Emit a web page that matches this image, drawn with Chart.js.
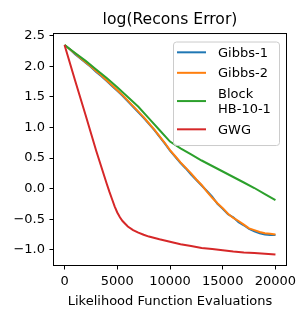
<!DOCTYPE html>
<html><head><meta charset="utf-8">
<script src="https://cdn.jsdelivr.net/npm/chart.js@4.4.0/dist/chart.umd.min.js"></script>
<style>html,body{margin:0;padding:0;background:#fff}#wrap{width:307px;height:318px;position:relative}</style>
</head><body><div id="wrap"><canvas id="c" width="307" height="318"></canvas></div>
<script>
const chartTitle = 'log(Recons Error)';
const xAxisLabel = 'Likelihood Function Evaluations';
const seriesNames = ['Gibbs-1', 'Gibbs-2', 'Block HB-10-1', 'GWG'];
const legendLines = [['Gibbs-1'], ['Gibbs-2'], ['Block', 'HB-10-1'], ['GWG']];
const seriesColors = ['#1f77b4', '#ff7f0e', '#2ca02c', '#d62728'];
const xTicks = [0, 5000, 10000, 15000, 20000];
const yTicks = [-1.0, -0.5, 0.0, 0.5, 1.0, 1.5, 2.0, 2.5];

const evalsFine = [0, 500, 1000, 1500, 2000, 2500, 3000, 3500, 4000, 4500, 5000, 5500, 6000, 6500, 7000, 7500, 8000, 8500, 9000, 9500, 10000,
  10500, 11000, 11500, 12000, 12500, 13000, 13500, 14000, 14500, 15000, 15500, 16000, 16500, 17000, 17500, 18000, 18500, 19000, 19500, 20000];
const gibbs1 = [2.35, 2.28, 2.20, 2.13, 2.06, 1.99, 1.91, 1.84, 1.76, 1.68, 1.60, 1.52, 1.43, 1.34, 1.25, 1.16, 1.06, 0.96, 0.85, 0.74, 0.62,
  0.52, 0.42, 0.33, 0.23, 0.14, 0.05, -0.04, -0.13, -0.25, -0.33, -0.42, -0.47, -0.55, -0.60, -0.66, -0.70, -0.73, -0.75, -0.76, -0.76];
const gibbs2 = [2.35, 2.28, 2.21, 2.14, 2.07, 2.00, 1.92, 1.85, 1.77, 1.69, 1.61, 1.53, 1.44, 1.35, 1.26, 1.17, 1.07, 0.97, 0.86, 0.75, 0.63,
  0.53, 0.43, 0.34, 0.25, 0.15, 0.06, -0.05, -0.15, -0.24, -0.32, -0.41, -0.48, -0.53, -0.59, -0.65, -0.68, -0.71, -0.73, -0.74, -0.75];
const evalsCoarse = [0, 1000, 2000, 3000, 4000, 5000, 6000, 7000, 8000, 9000, 10000, 11000, 12000, 13000, 14000, 15000, 16000, 17000, 18000, 19000, 20000];
const blockHB = [2.35, 2.22, 2.09, 1.95, 1.81, 1.66, 1.50, 1.34, 1.15, 0.96, 0.77, 0.66, 0.56, 0.46, 0.37, 0.28, 0.19, 0.10, 0.01, -0.09, -0.19];
const evalsGWG = [0, 1000, 2000, 3000, 3500, 4000, 4250, 4500, 4750, 5000, 5250, 5500, 6000, 6500, 7000, 7500, 8000, 9000, 10000, 11000, 12000, 13000, 14000, 15000, 16000, 17000, 18000, 19000, 20000];
const gwg = [2.35, 1.77, 1.20, 0.62, 0.35, 0.08, -0.05, -0.17, -0.29, -0.39, -0.47, -0.53, -0.62, -0.68, -0.72, -0.755, -0.785, -0.83, -0.87, -0.91, -0.94, -0.97, -0.99, -1.01, -1.03, -1.045, -1.055, -1.065, -1.08];

const FONT = "'DejaVu Sans', sans-serif";
const pts = (xs, ys) => xs.map((x, i) => ({x: x, y: ys[i]}));
const seriesData = [pts(evalsFine, gibbs1), pts(evalsFine, gibbs2), pts(evalsCoarse, blockHB), pts(evalsGWG, gwg)];

Chart.defaults.color = '#000';
Chart.defaults.font.family = FONT;

const fmtY = v => (v < 0 ? '\u2212' : '') + Math.abs(v).toFixed(1);

const framePlugin = {
  id: 'frameLegend',
  afterDatasetsDraw(chart) {
    const ctx = chart.ctx, a = chart.chartArea;
    ctx.save();
    ctx.strokeStyle = '#000';
    ctx.lineWidth = 1;
    ctx.strokeRect(a.left - 0.5, a.top - 0.5, a.right - a.left + 1, a.bottom - a.top + 1);
    // legend
    const w = 106, h = 103.5;
    const lx = a.right - 7 - w, ly = a.top + 7.5;
    ctx.beginPath();
    ctx.roundRect(lx + 0.5, ly + 0.5, w, h, 3);
    ctx.fillStyle = 'rgba(255,255,255,0.8)';
    ctx.fill();
    ctx.strokeStyle = '#cccccc';
    ctx.stroke();
    const lineH = 15.5, gap = 5;
    let top = ly + 3.05;
    ctx.font = '13px ' + FONT;
    ctx.textBaseline = 'alphabetic';
    ctx.textAlign = 'left';
    legendLines.forEach((lines, i) => {
      const n = lines.length;
      const first = top + lineH / 2;
      const mid = first + (n - 1) * lineH / 2;
      ctx.strokeStyle = seriesColors[i];
      ctx.lineWidth = 2;
      ctx.beginPath();
      ctx.moveTo(lx + 4, mid);
      ctx.lineTo(lx + 33, mid);
      ctx.stroke();
      ctx.fillStyle = '#000';
      lines.forEach((t, k) => ctx.fillText(t, lx + 45, first + k * lineH + 4.3));
      top += n * lineH + gap;
    });
    ctx.restore();
  }
};

new Chart(document.getElementById('c'), {
  type: 'line',
  data: {
    datasets: seriesNames.map((name, i) => ({
      label: name,
      data: seriesData[i],
      borderColor: seriesColors[i],
      backgroundColor: seriesColors[i],
      borderWidth: 2,
      pointRadius: 0,
      tension: 0,
      fill: false,
      order: seriesNames.length - i
    }))
  },
  options: {
    responsive: false,
    animation: false,
    devicePixelRatio: 1,
    layout: {padding: {left: 0, right: 21, top: 0, bottom: 0}},
    plugins: {
      legend: {display: false},
      tooltip: {enabled: false},
      title: {
        display: true,
        fullSize: false,
        text: chartTitle,
        color: '#000',
        font: {family: FONT, size: 15.6, weight: 'normal'},
        padding: {top: 10.6, bottom: 4.7}
      }
    },
    scales: {
      x: {
        type: 'linear',
        min: -1000,
        max: 21000,
        afterFit: s => { s.height = 53; },
        afterBuildTicks: s => { s.ticks = xTicks.map(v => ({value: v})); },
        ticks: {
          autoSkip: false, maxRotation: 0, padding: 4,
          font: {family: FONT, size: 13},
          callback: v => String(v)
        },
        grid: {display: true, drawOnChartArea: false, drawTicks: true, tickLength: 4.5, color: '#000', tickWidth: 1},
        border: {display: false},
        title: {display: true, text: xAxisLabel, font: {family: FONT, size: 13}, padding: {top: 0, bottom: 9}}
      },
      y: {
        type: 'linear',
        min: -1.25,
        max: 2.53,
        afterFit: s => { s.width = 54; },
        afterBuildTicks: s => { s.ticks = yTicks.map(v => ({value: v})); },
        ticks: {
          autoSkip: false, padding: 4.5,
          font: {family: FONT, size: 13},
          callback: v => fmtY(v)
        },
        grid: {display: true, drawOnChartArea: false, drawTicks: true, tickLength: 4.5, color: '#000', tickWidth: 1},
        border: {display: false}
      }
    }
  },
  plugins: [framePlugin]
});
</script>
</body></html>
